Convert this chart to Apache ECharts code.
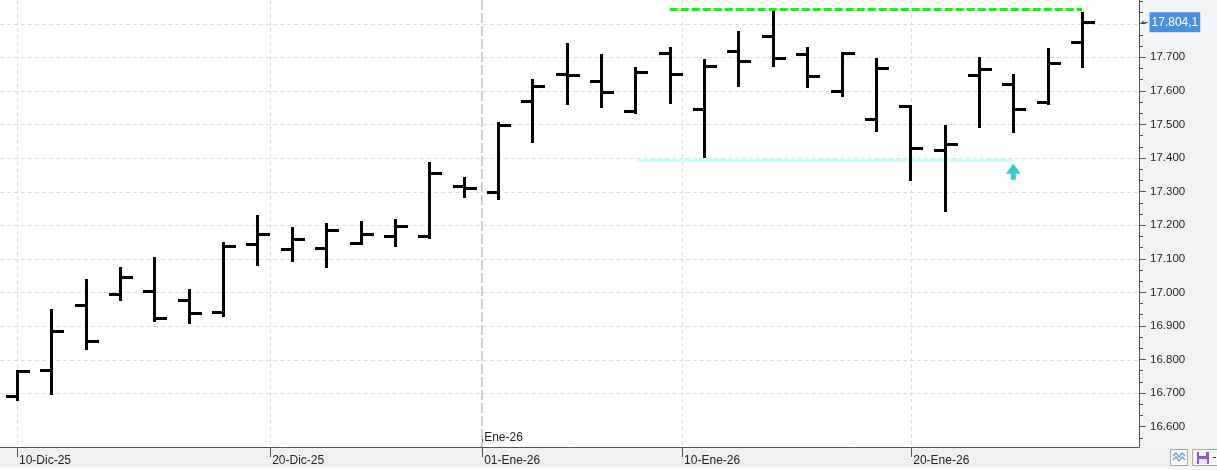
<!DOCTYPE html>
<html><head><meta charset="utf-8">
<script src="https://cdn.jsdelivr.net/npm/echarts@6/dist/echarts.min.js"></script>
<style>html,body{margin:0;padding:0;background:#fff;overflow:hidden}#c{width:1217px;height:470px}</style>
</head><body><div id="c"></div>
<script>
// ---- data ----
const dates = ['10-Dic-25','11-Dic-25','12-Dic-25','15-Dic-25','16-Dic-25','17-Dic-25','18-Dic-25','19-Dic-25',
  '22-Dic-25','23-Dic-25','24-Dic-25','26-Dic-25','29-Dic-25','30-Dic-25','02-Ene-26','05-Ene-26',
  '06-Ene-26','07-Ene-26','08-Ene-26','09-Ene-26','12-Ene-26','13-Ene-26','14-Ene-26','15-Ene-26',
  '16-Ene-26','19-Ene-26','20-Ene-26','21-Ene-26','22-Ene-26','23-Ene-26','26-Ene-26','27-Ene-26'];
const opens  = [16691,16770,16961,16994,17005,16978,16942,17144,17128,17131,17146,17167,17167,17316,17300,17571,
                17650,17630,17540,17712,17546,17718,17763,17710,17600,17517,17555,17424,17648,17620,17566,17745];
const highs  = [16770,16951,17039,17075,17106,17009,17150,17229,17194,17206,17212,17219,17389,17344,17507,17636,
                17742,17710,17671,17731,17695,17778,17838,17731,17715,17698,17557,17499,17701,17650,17728,17835];
const lows   = [16675,16693,16828,16973,16911,16907,16926,17079,17090,17074,17142,17136,17158,17282,17274,17444,
                17559,17550,17531,17562,17400,17612,17672,17609,17583,17479,17331,17239,17488,17476,17559,17669];
const closes = [16765,16884,16854,17045,16924,16939,17138,17174,17160,17185,17173,17197,17355,17311,17497,17614,
                17647,17597,17656,17650,17673,17688,17697,17644,17713,17667,17431,17442,17664,17546,17683,17804.1];
const xTickLabels = ['10-Dic-25','20-Dic-25','01-Ene-26','10-Ene-26','20-Ene-26'];
const xTickPos = [0, 7.37, 13.54, 19.36, 26.03];      // fractional bar index of calendar dates
const monthLabels = ['Ene-26'];
const monthPos = [13.54];
const yLabelValues = [16600,16700,16800,16900,17000,17100,17200,17300,17400,17500,17600,17700];
const yGridValues = [16700,16800,16900,17000,17100,17200,17300,17400,17500,17600,17700,17800];
const lastPrice = 17804.1;
const lastPriceText = '17.804,1';
const resistanceLevel = 17843, resistanceFrom = 19, resistanceTo = 31;
const supportLevel = 17395, supportFrom = 18, supportTo = 29;
const signalArrow = [29, 17359];

// ---- layout ----
const Y_MIN = 16539.5, Y_MAX = 17870.6;
const X_MIN = -0.4948, X_MAX = 32.659;
const yMajorTicks = [];
for (let v = 16600; v <= 17800; v += 100) yMajorTicks.push(v);
const yMinorTicks = [];
for (let k = -1; k <= 38; k++) { const v = 16600 + k * 100 / 3; if (v > Y_MIN && v < Y_MAX && k % 3 !== 0) yMinorTicks.push(v); }

const FONT = 'Liberation Sans, Arial, sans-serif';
const chart = echarts.init(document.getElementById('c'), null, {renderer: 'canvas'});

const ohlc = dates.map((d, i) => [i, opens[i], highs[i], lows[i], closes[i]]);

function crisp(v) { return Math.round(v) + 0.5; }

const option = {
  animation: false,
  backgroundColor: '#f2f3f5',
  grid: {left: 0, right: 78, top: 0, bottom: 23, show: true, backgroundColor: '#ffffff', borderWidth: 0},
  xAxis: [{
    type: 'value', min: X_MIN, max: X_MAX, position: 'bottom',
    axisLine: {show: true, onZero: false, lineStyle: {color: '#555', width: 1}},
    axisTick: {show: true, customValues: xTickPos, length: 10, lineStyle: {color: '#555'}},
    axisLabel: {customValues: xTickPos, align: 'left', margin: 8, color: '#222', fontSize: 12, fontFamily: FONT,
      padding: [0, 0, 0, 2],
      formatter: v => { const i = xTickPos.findIndex(p => Math.abs(p - v) < 1e-6); return i >= 0 ? xTickLabels[i] : ''; }},
    splitLine: {show: false}
  }, {
    type: 'value', min: X_MIN, max: X_MAX, position: 'bottom',
    axisLine: {show: false, onZero: false},
    axisTick: {show: true, inside: true, customValues: monthPos, length: 9, lineStyle: {color: '#555'}},
    axisLabel: {inside: true, customValues: monthPos, align: 'left', margin: 3, color: '#222', fontSize: 12, fontFamily: FONT,
      padding: [0, 0, 0, 2],
      formatter: v => { const i = monthPos.findIndex(p => Math.abs(p - v) < 1e-6); return i >= 0 ? monthLabels[i] : ''; }},
    splitLine: {show: false}
  }],
  yAxis: [{
    type: 'value', position: 'right', min: Y_MIN, max: Y_MAX,
    axisLine: {show: true, onZero: false, lineStyle: {color: '#555', width: 1}},
    axisTick: {show: true, customValues: yMajorTicks, length: 7, lineStyle: {color: '#555'}},
    axisLabel: {customValues: yLabelValues, margin: 11, color: '#222', fontSize: 11.5, fontFamily: FONT,
      formatter: v => (v / 1000).toFixed(3)},
    splitLine: {show: false}
  }, {
    type: 'value', position: 'right', min: Y_MIN, max: Y_MAX,
    axisLine: {show: false, onZero: false},
    axisTick: {show: true, customValues: yMinorTicks, length: 4, lineStyle: {color: '#555'}},
    axisLabel: {show: false},
    splitLine: {show: false}
  }, {
    type: 'value', position: 'right', min: Y_MIN, max: Y_MAX,
    axisLine: {show: false, onZero: false}, axisTick: {show: false},
    axisLabel: {customValues: [lastPrice], margin: 2,
      formatter: () => '{a|←}{b|' + lastPriceText + '}',
      rich: {
        a: {fontFamily: 'DejaVu Sans', fontSize: 9, color: '#333', padding: [0, 1, 0, 0]},
        b: {fontFamily: FONT, fontSize: 12, color: '#fff', backgroundColor: '#4a90e2', padding: [4, 2, 4, 2]}
      }},
    splitLine: {show: false}
  }],
  graphic: [
    {type: 'rect', z: -1, shape: {x: 0, y: 447, width: 1217, height: 20}, style: {fill: '#f0f0f0'}},
    {type: 'rect', z: -1, shape: {x: 0, y: 467, width: 1217, height: 3}, style: {fill: '#f8f8f8'}},
    {type: 'rect', shape: {x: 1170.5, y: 449.5, width: 17, height: 16}, style: {fill: '#f7f7f7', stroke: '#a8a8a8', lineWidth: 1}},
    {type: 'polyline', shape: {points: [[1173, 456], [1176, 453], [1179, 457], [1182, 453], [1185, 456]]}, style: {stroke: '#5b9bd5', lineWidth: 1.2, fill: null}},
    {type: 'polyline', shape: {points: [[1173, 460], [1176, 457], [1179, 461], [1182, 457], [1185, 460]]}, style: {stroke: '#5b9bd5', lineWidth: 1.2, fill: null}},
    {type: 'rect', shape: {x: 1192.5, y: 449.5, width: 30, height: 16}, style: {fill: '#f7f7f7', stroke: '#a8a8a8', lineWidth: 1}},
    {type: 'rect', shape: {x: 1197, y: 452, width: 12, height: 12}, style: {fill: '#8e56c8'}},
    {type: 'rect', shape: {x: 1199, y: 452, width: 7, height: 4}, style: {fill: '#ffffff'}},
    {type: 'rect', shape: {x: 1199, y: 459, width: 8, height: 5}, style: {fill: '#ece4f7'}},
    {type: 'rect', shape: {x: 1213, y: 457, width: 3, height: 1}, style: {fill: '#333'}}
  ],
  series: [{
    // horizontal grid lines
    type: 'custom', z: 1, silent: true, xAxisIndex: 0, yAxisIndex: 0,
    data: yGridValues.map(v => [0, v]),
    renderItem: (params, api) => {
      const cs = params.coordSys;
      const y = crisp(api.coord([0, api.value(1)])[1]);
      return {type: 'line', shape: {x1: cs.x, y1: y, x2: cs.x + cs.width, y2: y},
        style: {stroke: '#dedede', lineWidth: 1, lineDash: [4, 3]}};
    }
  }, {
    // vertical date grid lines
    type: 'custom', z: 1, silent: true, xAxisIndex: 0, yAxisIndex: 0,
    data: xTickPos.map(p => [p, 17000]),
    renderItem: (params, api) => {
      const cs = params.coordSys;
      const v = api.value(0);
      const isMonth = monthPos.some(p => Math.abs(p - v) < 1e-6);
      const x = isMonth ? Math.round(api.coord([v, 17000])[0]) : crisp(api.coord([v, 17000])[0]);
      return {type: 'line', shape: {x1: x, y1: cs.y, x2: x, y2: cs.y + cs.height},
        style: isMonth ? {stroke: '#cfcfcf', lineWidth: 2, lineDash: [10, 3]} : {stroke: '#dedede', lineWidth: 1, lineDash: [4, 3]}};
    }
  }, {
    // level lines
    type: 'custom', z: 2, silent: true, xAxisIndex: 0, yAxisIndex: 0,
    data: [[resistanceFrom, resistanceLevel, resistanceTo, 0], [supportFrom, supportLevel, supportTo, 1]],
    renderItem: (params, api) => {
      const a = api.coord([api.value(0), api.value(1)]);
      const b = api.coord([api.value(2), api.value(1)]);
      const kind = api.value(3);
      const y = crisp(a[1]);
      return {type: 'line', shape: {x1: a[0], y1: y, x2: b[0], y2: y},
        style: kind === 0 ? {stroke: '#00ff00', lineWidth: 3, lineDash: [8, 3]} : {stroke: '#ccffff', lineWidth: 3}};
    }
  }, {
    // OHLC bars
    type: 'custom', z: 3, xAxisIndex: 0, yAxisIndex: 0,
    data: ohlc,
    renderItem: (params, api) => {
      const x = api.value(0);
      const pO = api.coord([x, api.value(1)]);
      const pH = api.coord([x, api.value(2)]);
      const pL = api.coord([x, api.value(3)]);
      const pC = api.coord([x, api.value(4)]);
      const cx = crisp(pH[0]);
      const w = 12;
      const st = {stroke: '#000', lineWidth: 3};
      const yO = crisp(pO[1]), yC = crisp(pC[1]);
      return {type: 'group', children: [
        {type: 'line', shape: {x1: cx, y1: Math.round(pH[1]), x2: cx, y2: Math.round(pL[1])}, style: st},
        {type: 'line', shape: {x1: Math.round(cx - w), y1: yO, x2: cx, y2: yO}, style: st},
        {type: 'line', shape: {x1: cx, y1: yC, x2: Math.round(cx + w), y2: yC}, style: st}
      ]};
    },
    markPoint: {
      silent: true,
      symbol: 'path://M7.5,0 L15,10 L10,10 L10,16 L5,16 L5,10 L0,10 Z',
      symbolSize: [15, 16],
      itemStyle: {color: '#33cccc'},
      label: {show: false},
      data: [{coord: signalArrow}]
    }
  }]
};
chart.setOption(option);
</script>
</body></html>
